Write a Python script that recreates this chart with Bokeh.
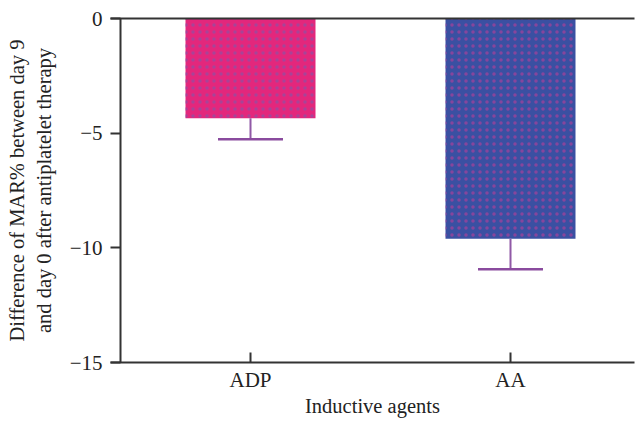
from bokeh.plotting import figure
from bokeh.models import ColumnDataSource, FixedTicker, LinearAxis, Span, Range1d
from bokeh.embed import file_html
from bokeh.resources import INLINE

categories = ["ADP", "AA"]
means = [-4.35, -9.6]
errors = [0.92, 1.33]
bar_colors = ["#E3277C", "#3A50A2"]
dot_colors = ["#8E4FA3", "#A8409A"]
y_ticks = [0, -5, -10, -15]
y_tick_labels = ["0", "\u22125", "\u221210", "\u221215"]

xs = [i + 1 for i in range(len(categories))]
err_low = [m - e for m, e in zip(means, errors)]

src = ColumnDataSource(dict(
    x=xs, mean=means, low=err_low, color=bar_colors, dot=dot_colors,
    cap_l=[x - 0.125 for x in xs], cap_r=[x + 0.125 for x in xs],
))

FONT = "Liberation Serif"
AX = "#333333"

p = figure(output_backend="svg", toolbar_location=None,
           width=635, height=421,
           frame_width=524, frame_height=344,
           x_range=Range1d(0.5 - 10 / 260, 0.5 - 10 / 260 + 524 / 260),
           y_range=Range1d(-15, 0),
           min_border_left=110, min_border_top=18, min_border_right=1,
           min_border_bottom=59)
p.outline_line_color = None
p.grid.visible = False
p.background_fill_color = "white"
p.border_fill_color = "white"

p.vbar(x="x", width=0.5, top=0, bottom="mean", source=src,
       fill_color="color", line_color=None,
       hatch_pattern="dot", hatch_color="dot", hatch_scale=7,
       hatch_weight=1.4, hatch_alpha=0.7)

p.segment(x0="x", y0="mean", x1="x", y1="low", source=src,
          line_color="#9059A6", line_width=2)
p.segment(x0="cap_l", y0="low", x1="cap_r", y1="low", source=src,
          line_color="#8A4B9E", line_width=2.5)

# y axis line
p.add_layout(Span(location=0.5, dimension="height", line_color=AX, line_width=2))

# x axis
xa = p.xaxis[0]
xa.ticker = FixedTicker(ticks=xs)
xa.major_label_overrides = {x: c for x, c in zip(xs, categories)}
xa.minor_tick_line_color = None
xa.major_tick_in = 10
xa.major_tick_out = 0
xa.major_tick_line_color = AX
xa.major_tick_line_width = 2
xa.axis_line_color = AX
xa.axis_line_width = 2
xa.major_label_text_font = FONT
xa.major_label_text_font_size = "21px"
xa.major_label_text_color = "#222222"
xa.major_label_standoff = 5
xa.axis_label = "Inductive agents"
xa.axis_label_text_font = FONT
xa.axis_label_text_font_size = "20.5px"
xa.axis_label_text_font_style = "normal"
xa.axis_label_text_color = "#222222"
xa.axis_label_standoff = 0

# y axis
ya = p.yaxis[0]
ya.ticker = FixedTicker(ticks=y_ticks)
ya.major_label_overrides = {t: l for t, l in zip(y_ticks, y_tick_labels)}
ya.minor_tick_line_color = None
ya.major_tick_in = 10
ya.major_tick_out = 0
ya.major_tick_line_color = AX
ya.major_tick_line_width = 2
ya.axis_line_color = None
ya.major_label_text_font = FONT
ya.major_label_text_font_size = "21px"
ya.major_label_text_color = "#222222"
ya.major_label_standoff = 8
ya.axis_label = "Difference of MAR% between day 9\nand day 0 after antiplatelet therapy"
ya.axis_label_text_font = FONT
ya.axis_label_text_font_size = "20.5px"
ya.axis_label_text_font_style = "normal"
ya.axis_label_text_color = "#222222"
ya.axis_label_standoff = 12

# top line
top = LinearAxis(ticker=FixedTicker(ticks=[]), axis_line_color=AX, axis_line_width=2,
                 major_tick_line_color=None, minor_tick_line_color=None,
                 major_label_text_font_size="0px")
p.add_layout(top, "above")

open("out.html", "w").write(file_html(p, INLINE))
